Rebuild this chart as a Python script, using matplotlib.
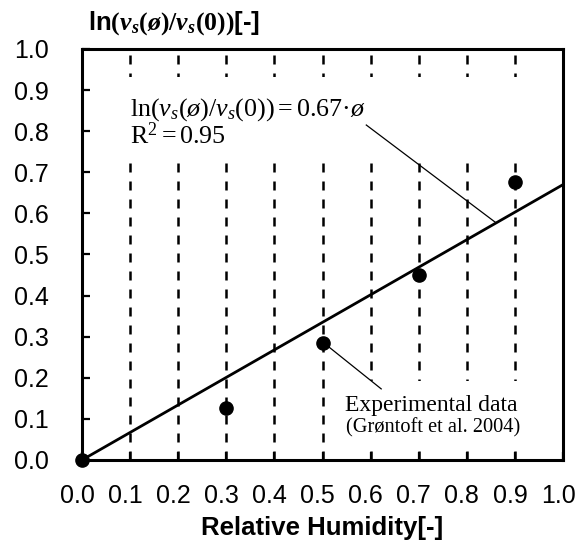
import numpy as np
import matplotlib
matplotlib.use("Agg")
import matplotlib.pyplot as plt
from matplotlib.patches import Rectangle
from matplotlib.transforms import ScaledTranslation

# measured reaction-rate ratio vs. relative humidity
rh = [0.0, 0.3, 0.5, 0.7, 0.9]
ln_ratio = [0.0, 0.127, 0.285, 0.451, 0.676]
slope = 0.67
r_squared = 0.95
ticks = [0.0, 0.1, 0.2, 0.3, 0.4, 0.5, 0.6, 0.7, 0.8, 0.9, 1.0]
tick_labels = ["%.1f" % t for t in ticks]

plt.rcParams["mathtext.fontset"] = "custom"
plt.rcParams["mathtext.rm"] = "Liberation Serif"
plt.rcParams["mathtext.it"] = "Liberation Serif:italic"
plt.rcParams["mathtext.bf"] = "Liberation Sans:bold"
plt.rcParams["mathtext.sf"] = "Liberation Serif:bold"
plt.rcParams["mathtext.bfit"] = "Liberation Serif:bold:italic"
plt.rcParams["font.family"] = ["Liberation Sans", "DejaVu Sans"]

fig = plt.figure(figsize=(5.78, 5.48), dpi=100)
ax = fig.add_axes([0.1419, 0.1606, 0.8322, 0.75])

ax.set_xlim(0, 1)
ax.set_ylim(0, 1)
ax.set_xticks(ticks)
ax.set_yticks(ticks)
ax.set_xticklabels(tick_labels)
ax.set_yticklabels(tick_labels)
ax.tick_params(direction="in", length=6, width=1.6, labelsize=18, colors="black")
ax.tick_params(axis="x", pad=17)
ax.tick_params(axis="y", pad=24)
# nudge x labels a little to the left so 1.0 stays inside the figure
shift = ScaledTranslation(-0.05, 0, fig.dpi_scale_trans)
for lbl in ax.get_xticklabels():
    lbl.set_transform(lbl.get_transform() + shift)
for s in ax.spines.values():
    s.set_linewidth(2.2)

# dashed verticals at each tick
for t in ticks[1:-1]:
    ax.plot([t, t], [0, 1], color="black", lw=1.8, ls=(0, (3.6, 3.6)), zorder=0.8)

# white areas behind the annotations
ax.add_patch(Rectangle((0.08, 0.739), 0.87, 0.193, facecolor="white", edgecolor="none", zorder=1))
ax.add_patch(Rectangle((0.55, 0.022), 0.40, 0.171, facecolor="white", edgecolor="none", zorder=1))

# linear fit through origin
xf = np.array([0.0, 1.0])
ax.plot(xf, slope * xf, color="black", lw=2.0, zorder=3)

ax.plot(rh, ln_ratio, "o", color="black", ms=9.5, clip_on=False, zorder=4)

# equation + leader
ax.text(0.10, 0.837, r"$\mathrm{ln(}v_{s}\mathrm{(}ø\mathrm{)/}v_{s}\mathrm{(0))} = \mathrm{%.2f·}ø$" % slope,
        fontsize=18.7, ha="left", va="baseline", zorder=5)
ax.text(0.10, 0.768, r"$\mathrm{R}^{\mathrm{2}} = \mathrm{%.2f}$" % r_squared,
        fontsize=18.7, ha="left", va="baseline", zorder=5)
ax.plot([0.591, 0.861], [0.815, slope * 0.861], color="black", lw=0.9, zorder=2)

# experimental data label + leader
ax.text(0.726, 0.120, "Experimental data", family="Liberation Serif",
        fontsize=17, ha="center", va="baseline", zorder=5)
ax.text(0.729, 0.066, "(Grøntoft et al. 2004)", family="Liberation Serif",
        fontsize=14.7, ha="center", va="baseline", zorder=5)
ax.plot([0.51, 0.622], [0.278, 0.173], color="black", lw=0.9, zorder=2)

ax.set_xlabel("Relative Humidity[-]", fontsize=18.5, fontweight="bold", labelpad=6)
fig.text(88 / 578, 0.958,
         r"ln$\mathsf{(}\mathbfit{v}_{\mathbfit{s}}\mathsf{(}\mathbfit{ø}\mathsf{)/}"
         r"\mathbfit{v}_{\mathbfit{s}}\mathsf{(0))}$[-]",
         fontsize=18.5, fontweight="bold", ha="left", va="center")

fig.savefig("out.png", dpi=100)
